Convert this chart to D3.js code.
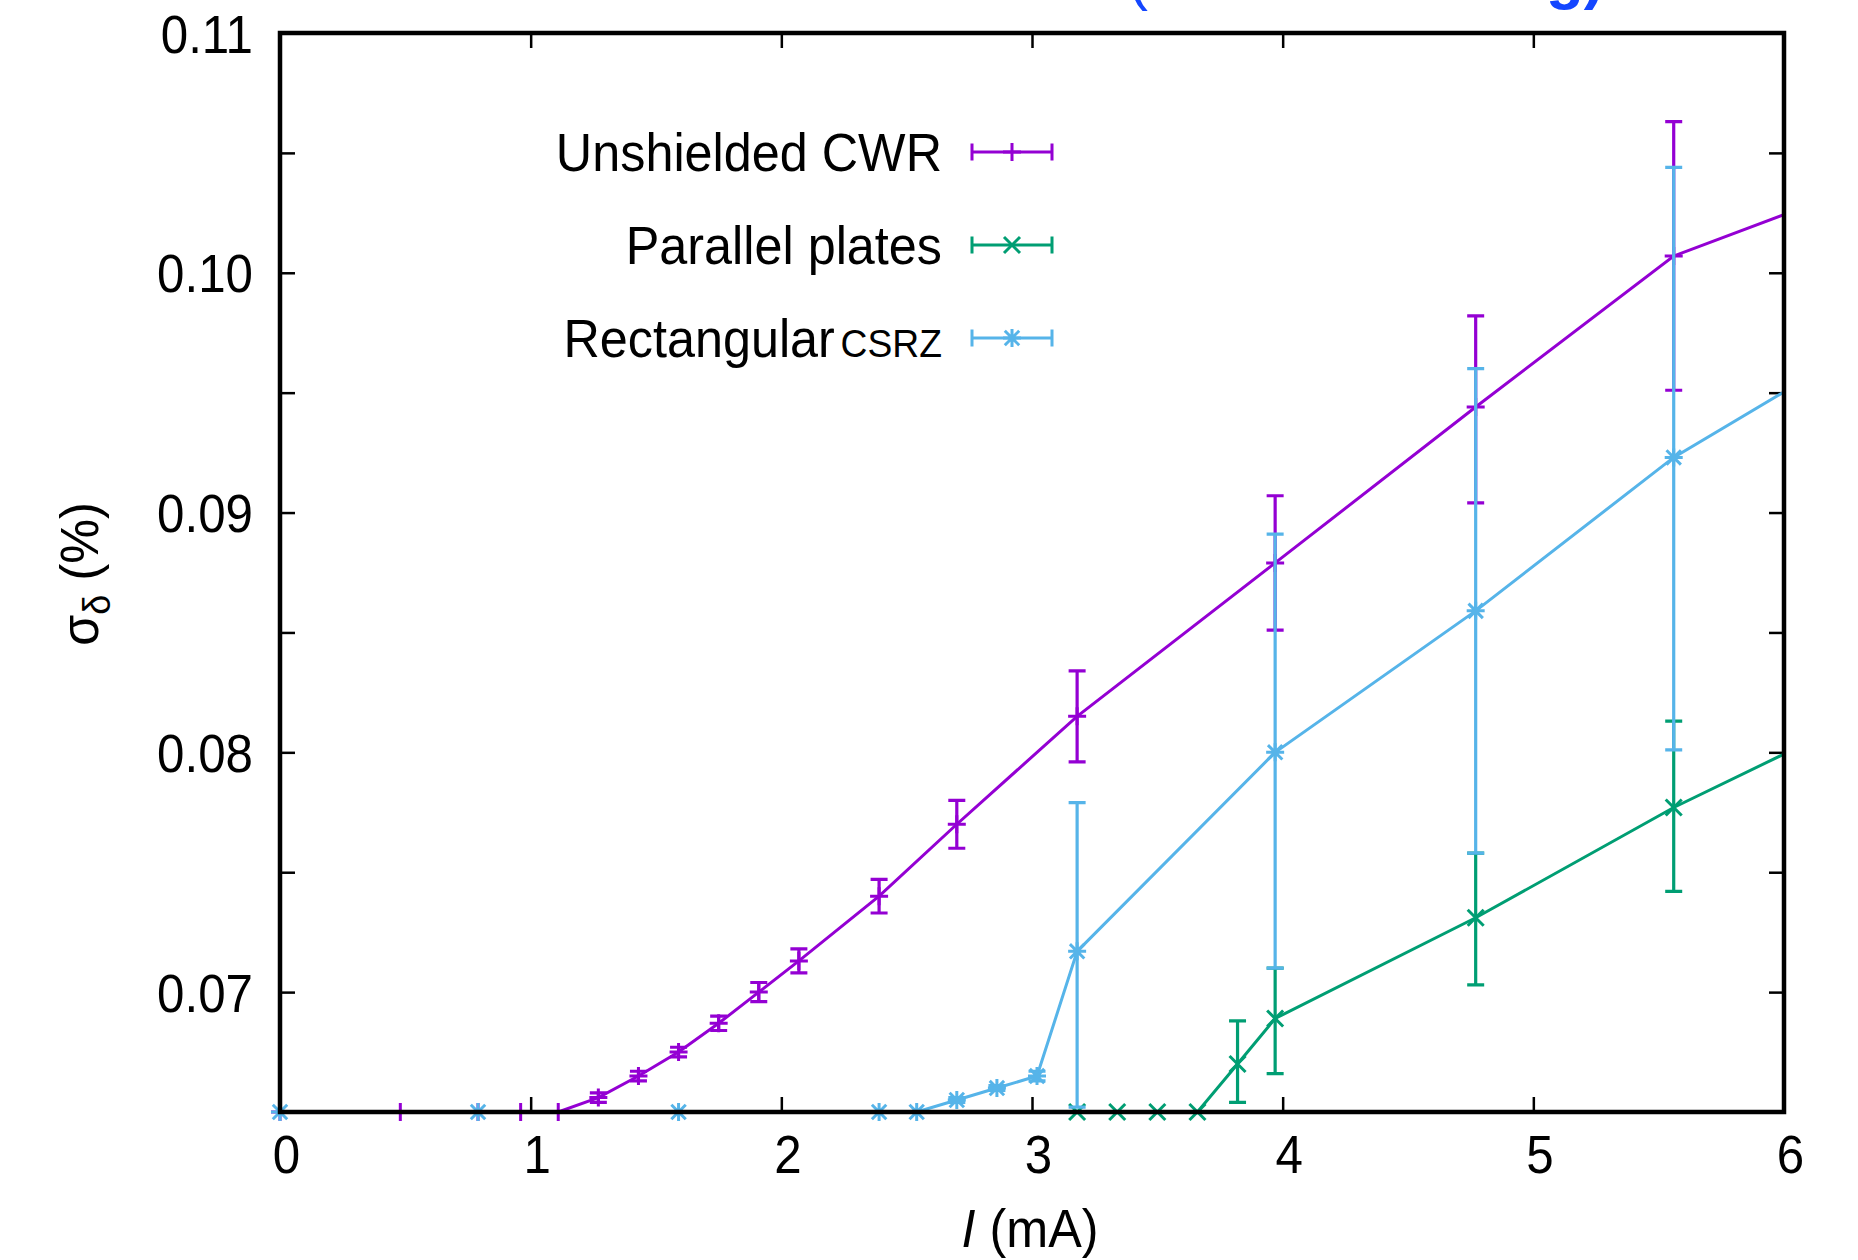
<!DOCTYPE html>
<html>
<head>
<meta charset="utf-8">
<script src="https://cdn.jsdelivr.net/npm/d3@7"></script>
<style>
  html, body { margin: 0; padding: 0; background: #fff; }
  svg { display: block; }
  text { font-family: "Liberation Sans", Arial, Helvetica, sans-serif; }
</style>
</head>
<body>
<div id="chart"></div>
<script>
// Beam current I (mA) and energy spread sigma_delta (%) with error bar ends
const unshieldedI     = [0, 0.48, 0.79, 0.96, 1.11, 1.27, 1.43, 1.59, 1.75, 1.91, 2.07, 2.39, 2.70, 3.18, 3.97, 4.77, 5.56, 6.35];
const unshieldedSigma = [0.065, 0.065, 0.065, 0.065, 0.065, 0.0656, 0.0665, 0.0675, 0.0687, 0.0700, 0.0713, 0.0740, 0.0770, 0.0815, 0.0879, 0.0944, 0.1007, 0.1038];
const unshieldedLo    = [0.065, 0.065, 0.065, 0.065, 0.065, 0.0654, 0.0663, 0.0673, 0.0684, 0.0696, 0.0708, 0.0733, 0.0760, 0.0796, 0.0851, 0.0904, 0.0951, 0.1038];
const unshieldedHi    = [0.065, 0.065, 0.065, 0.065, 0.065, 0.0658, 0.0667, 0.0677, 0.0690, 0.0704, 0.0718, 0.0747, 0.0780, 0.0834, 0.0907, 0.0982, 0.1063, 0.1038];

const plateI     = [3.18, 3.34, 3.50, 3.66, 3.82, 3.97, 4.77, 5.56, 6.35];
const plateSigma = [0.065, 0.065, 0.065, 0.065, 0.0670, 0.0689, 0.0731, 0.0777, 0.0817];
const plateLo    = [0.065, 0.065, 0.065, 0.065, 0.0654, 0.0666, 0.0703, 0.0742, 0.0817];
const plateHi    = [0.065, 0.065, 0.065, 0.065, 0.0688, 0.0710, 0.0758, 0.0813, 0.0817];

const rectI     = [0, 0.79, 1.59, 2.39, 2.54, 2.70, 2.86, 3.02, 3.18, 3.97, 4.77, 5.56, 6.35];
const rectSigma = [0.065, 0.065, 0.065, 0.065, 0.065, 0.0655, 0.0660, 0.0665, 0.0717, 0.0800, 0.0859, 0.0923, 0.0972];
const rectLo    = [0.065, 0.065, 0.065, 0.065, 0.065, 0.0654, 0.0659, 0.0663, 0.0652, 0.0710, 0.0758, 0.0801, 0.0972];
const rectHi    = [0.065, 0.065, 0.065, 0.065, 0.065, 0.0656, 0.0661, 0.0667, 0.0779, 0.0891, 0.0960, 0.1044, 0.0972];

const xTicks = [0, 1, 2, 3, 4, 5, 6];
const yTicks = [0.07, 0.08, 0.09, 0.10, 0.11];
const yMinorTicks = [0.075, 0.085, 0.095, 0.105];

const width = 1858, height = 1260;
const FS = 53;        // base font size
const SQ = 0.95;      // horizontal squash of the original lettering
const SQ_TICK = 0.93;

const svg = d3.select("#chart").append("svg")
    .attr("width", width)
    .attr("height", height);

const x = d3.scaleLinear().domain([0, 6]).range([280, 1784]);
const y = d3.scaleLinear().domain([0.065, 0.11]).range([1112, 33]);

// clipped blue caption at the very top of the figure
svg.append("text")
    .attr("x", 1128).attr("y", -1)
    .attr("fill", "#1446ff").attr("font-size", 60)
    .text("(");
svg.append("text")
    .attr("x", 1546).attr("y", -3)
    .attr("fill", "#1446ff").attr("font-size", 62)
    .attr("font-weight", "bold")
    .text("g)");

// ── Axes (ticks point inwards, mirrored on all sides) ──
const tickLen = 15;
const bottom = svg.append("g")
    .attr("transform", `translate(0,${y.range()[0]})`)
    .call(d3.axisBottom(x).tickValues(xTicks).tickSizeInner(-tickLen).tickSizeOuter(0).tickFormat(d3.format("d")));
bottom.selectAll("text")
    .attr("x", null).attr("y", null).attr("dy", null)
    .attr("transform", `translate(6,61) scale(${SQ_TICK},1)`);

svg.append("g")
    .attr("transform", `translate(0,${y.range()[1]})`)
    .call(d3.axisTop(x).tickValues(xTicks).tickSizeInner(-tickLen).tickSizeOuter(0).tickFormat(""));

const left = svg.append("g")
    .attr("transform", `translate(${x.range()[0]},0)`)
    .call(d3.axisLeft(y).tickValues(yTicks.concat(yMinorTicks)).tickSizeInner(-tickLen).tickSizeOuter(0)
        .tickFormat(d => yTicks.includes(d) ? d3.format(".2f")(d) : ""));
left.selectAll("text")
    .attr("x", null).attr("dy", null)
    .attr("transform", `translate(-27,19) scale(${SQ_TICK},1)`);

svg.append("g")
    .attr("transform", `translate(${x.range()[1]},0)`)
    .call(d3.axisRight(y).tickValues(yTicks.concat(yMinorTicks)).tickSizeInner(-tickLen).tickSizeOuter(0).tickFormat(""));

svg.selectAll(".domain").remove();
svg.selectAll(".tick line").attr("stroke", "#000").attr("stroke-width", 2.5);
svg.selectAll(".tick text")
    .attr("fill", "#000")
    .attr("font-size", FS)
    .attr("font-family", "'Liberation Sans', Arial, sans-serif");

// ── Series ──
const markers = {
    plus:  s => `M${-s},0H${s}M0,${-s}V${s}`,
    cross: s => `M${-s},${-s}L${s},${s}M${-s},${s}L${s},${-s}`,
    star:  s => `M${-s},0H${s}M0,${-s}V${s}M${-s * 0.8},${-s * 0.8}L${s * 0.8},${s * 0.8}M${-s * 0.8},${s * 0.8}L${s * 0.8},${-s * 0.8}`
};

const series = [
    { label: "Unshielded CWR", small: "", color: "#9400d3", marker: markers.plus(9),
      I: unshieldedI, s: unshieldedSigma, lo: unshieldedLo, hi: unshieldedHi },
    { label: "Parallel plates", small: "", color: "#009e73", marker: markers.cross(8),
      I: plateI, s: plateSigma, lo: plateLo, hi: plateHi },
    { label: "Rectangular", small: "CSRZ", color: "#56b4e9", marker: markers.star(9),
      I: rectI, s: rectSigma, lo: rectLo, hi: rectHi }
];

svg.append("clipPath").attr("id", "plot-clip")
    .append("rect")
    .attr("x", x.range()[0]).attr("y", y.range()[1])
    .attr("width", x.range()[1] - x.range()[0])
    .attr("height", y.range()[0] - y.range()[1]);

const line = d3.line().x(d => x(d.I)).y(d => y(d.s));
const cap = 8.5;

series.forEach(ser => {
    const pts = ser.I.map((v, i) => ({ I: v, s: ser.s[i], lo: ser.lo[i], hi: ser.hi[i] }));
    const inside = pts.filter(d => d.I <= 6);
    const g = svg.append("g");

    g.append("path")
        .datum(pts)
        .attr("clip-path", "url(#plot-clip)")
        .attr("d", line)
        .attr("fill", "none")
        .attr("stroke", ser.color)
        .attr("stroke-width", 3);

    g.append("g")
        .selectAll("path")
        .data(inside.filter(d => d.hi > d.lo))
        .join("path")
        .attr("d", d => {
            const px = x(d.I), y0 = y(d.lo), y1 = y(d.hi);
            return `M${px},${y0}V${y1}M${px - cap},${y0}H${px + cap}M${px - cap},${y1}H${px + cap}`;
        })
        .attr("fill", "none")
        .attr("stroke", ser.color)
        .attr("stroke-width", 3.2);

    g.append("g")
        .selectAll("path")
        .data(inside)
        .join("path")
        .attr("transform", d => `translate(${x(d.I)},${y(d.s)})`)
        .attr("d", ser.marker)
        .attr("fill", "none")
        .attr("stroke", ser.color)
        .attr("stroke-width", 3);
});

// ── Frame ──
svg.append("rect")
    .attr("x", x.range()[0]).attr("y", y.range()[1])
    .attr("width", x.range()[1] - x.range()[0])
    .attr("height", y.range()[0] - y.range()[1])
    .attr("fill", "none")
    .attr("stroke", "#000")
    .attr("stroke-width", 4.5);

// ── Legend ──
const legendRows = [152, 245, 338];
const legend = svg.append("g")
    .selectAll("g")
    .data(series)
    .join("g")
    .attr("transform", (d, i) => `translate(0,${legendRows[i]})`);

legend.append("text")
    .attr("transform", `translate(942,19) scale(${SQ},1)`)
    .attr("text-anchor", "end")
    .attr("font-size", FS)
    .attr("fill", "#000")
    .each(function(d) {
        const t = d3.select(this);
        t.append("tspan").text(d.label);
        if (d.small) t.append("tspan").attr("font-size", FS * 0.74).attr("dx", 6).text(d.small);
    });

legend.append("path")
    .attr("d", `M972,0H1052M972,${-cap}V${cap}M1052,${-cap}V${cap}`)
    .attr("fill", "none")
    .attr("stroke", d => d.color)
    .attr("stroke-width", 3);

legend.append("path")
    .attr("transform", "translate(1012,0)")
    .attr("d", d => d.marker)
    .attr("fill", "none")
    .attr("stroke", d => d.color)
    .attr("stroke-width", 3);

// ── Axis titles ──
const xTitle = svg.append("text")
    .attr("transform", `translate(1030,1247) scale(${SQ},1)`)
    .attr("text-anchor", "middle")
    .attr("font-size", FS)
    .attr("fill", "#000");
xTitle.append("tspan").attr("font-style", "italic").text("I");
xTitle.append("tspan").text(" (mA)");

const yTitle = svg.append("text")
    .attr("transform", `translate(98,574) rotate(-90) scale(${SQ},1)`)
    .attr("text-anchor", "middle")
    .attr("font-size", FS)
    .attr("fill", "#000");
yTitle.append("tspan").text("σ");
yTitle.append("tspan").attr("font-size", FS * 0.72).attr("dy", 12).text("δ");
yTitle.append("tspan").attr("dy", -12).text(" (%)");
</script>
</body>
</html>
